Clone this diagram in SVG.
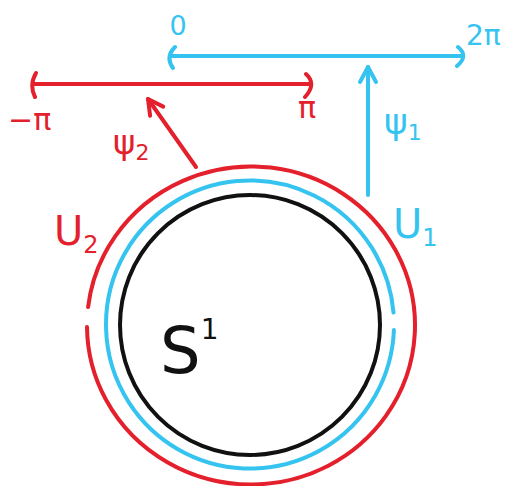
<svg xmlns="http://www.w3.org/2000/svg" width="513" height="486" viewBox="0 0 513 486">
<style>
.s{fill:none;stroke-width:4;stroke-linecap:round;stroke-linejoin:round}
.red{stroke:#e3202c}
.blue{stroke:#35c3f0}
.blk{stroke:#111}
.t{font-family:"DejaVu Sans","Liberation Sans",sans-serif}
.tr{fill:#e3202c}
.tb{fill:#35c3f0}
.tk{fill:#111}
</style>
<defs>
<marker id="ar" markerUnits="userSpaceOnUse" markerWidth="30" markerHeight="30" refX="0" refY="0" viewBox="-20 -15 30 30" orient="auto" overflow="visible">
<path d="M -15 -8 L 0 0 L -15 8" fill="none" stroke="#e3202c" stroke-width="4" stroke-linecap="round" stroke-linejoin="round"/>
</marker>
<marker id="ab" markerUnits="userSpaceOnUse" markerWidth="30" markerHeight="30" refX="0" refY="0" viewBox="-20 -15 30 30" orient="auto" overflow="visible">
<path d="M -15 -8 L 0 0 L -15 8" fill="none" stroke="#35c3f0" stroke-width="4" stroke-linecap="round" stroke-linejoin="round"/>
</marker>
</defs>
<rect width="513" height="486" fill="#fff"/>
<g id="circle-S1">
<circle class="s blk" cx="250" cy="325" r="130"/>
<text class="t tk" x="160" y="373" font-size="64">S<tspan font-size="28" dy="-34">1</tspan></text>
</g>
<g id="U1">
<path class="s blue" d="M 393.9 330 A 144 144 0 1 1 393.5 312.5"/>
<text class="t tb" x="393" y="238" font-size="40">U<tspan font-size="24" dy="8">1</tspan></text>
</g>
<g id="U2">
<path class="s red" d="M 88.1 307 A 164 159 0 1 1 87 326.9"/>
<text class="t tr" x="54" y="245" font-size="40">U<tspan font-size="24" dy="8">2</tspan></text>
</g>
<g id="interval-0-2pi">
<path class="s blue" d="M 170 56 L 461 56 M 175 47 Q 165 57 173 68 M 458 47 Q 469 56 457 66"/>
<text class="t tb" x="178" y="35" font-size="27" text-anchor="middle">0</text>
<text class="t tb" x="466" y="45" font-size="28">2π</text>
</g>
<g id="interval-minuspi-pi">
<path class="s red" d="M 33 84 L 310 84 M 36 73 Q 29 85 35 97 M 306 74 Q 317 84 305 97"/>
<text class="t tr" x="8" y="130" font-size="30">−π</text>
<text class="t tr" x="298" y="118" font-size="30">π</text>
</g>
<g id="connectors">
<path class="s blue" d="M 368 195 L 368 67" marker-end="url(#ab)"/>
<path class="s red" d="M 196 167 L 148 99" marker-end="url(#ar)"/>
<text class="t tb" x="384" y="134" font-size="36">ψ<tspan font-size="22" dy="6">1</tspan></text>
<text class="t tr" x="113" y="154" font-size="34">ψ<tspan font-size="22" dy="6">2</tspan></text>
</g>
</svg>
